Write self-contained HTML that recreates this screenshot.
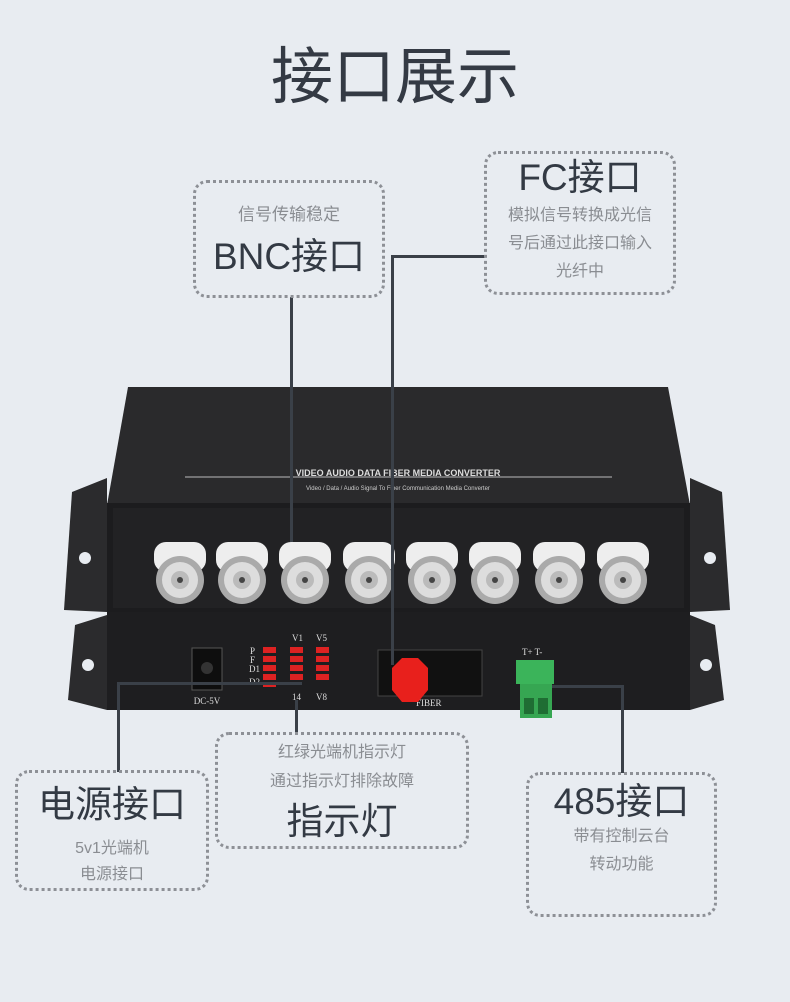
<!DOCTYPE html>
<html><head><meta charset="utf-8"><style>
body{margin:0;width:790px;height:1002px;background:#e8ecf1;position:relative;overflow:hidden;font-family:"Liberation Sans","Noto Sans CJK SC",sans-serif;}
.t{position:absolute;white-space:nowrap;text-align:center;}
.box{position:absolute;border:3px dotted #8d9096;border-radius:14px;box-sizing:border-box;}
.big{font-size:37px;color:#333a44;}
.sm{font-size:16px;color:#8a8d92;}
.ln{position:absolute;background:#3a4048;}
</style></head><body>
<div class="t" style="left:0;width:790px;top:26px;font-size:62px;color:#343a44;">接口展示</div>

<svg style="position:absolute;left:0;top:0" width="790" height="1002">
 <polygon points="107,478 72,492 64,610 107,612" fill="#2b2b2d"/>
 <polygon points="690,478 722,492 730,610 690,612" fill="#2b2b2d"/>
 <polygon points="128,387 668,387 690,505 107,505" fill="#2a2a2c"/>
 <line x1="185" y1="477" x2="612" y2="477" stroke="#bbb" stroke-width="1"/>
 <text x="398" y="476" font-size="9" fill="#ddd" text-anchor="middle" font-family="Liberation Sans" font-weight="bold">VIDEO AUDIO DATA FIBER MEDIA CONVERTER</text>
 <text x="398" y="490" font-size="6" fill="#ccc" text-anchor="middle" font-family="Liberation Sans">Video / Data / Audio Signal To Fiber Communication Media Converter</text>
 <rect x="107" y="503" width="583" height="110" fill="#1c1c1e"/>
 <rect x="113" y="508" width="571" height="100" fill="#222224"/>
 <polygon points="107,615 75,625 68,700 107,710" fill="#2b2b2d"/>
 <polygon points="690,615 715,625 724,700 690,710" fill="#2b2b2d"/>
 <rect x="107" y="612" width="583" height="98" fill="#1e1e20"/>
 <g fill="#e8ecf1">
  <circle cx="85" cy="558" r="6"/><circle cx="710" cy="558" r="6"/>
  <circle cx="88" cy="665" r="6"/><circle cx="706" cy="665" r="6"/>
 </g>
 <g>
  <g transform="translate(180,0)"><rect x="-26" y="542" width="52" height="30" rx="12" fill="#eee"/><circle cy="580" r="24" fill="#aaa"/><circle cy="580" r="18" fill="#ddd"/><circle cy="580" r="9" fill="#bbb"/><circle cy="580" r="3" fill="#444"/></g>
  <g transform="translate(242,0)"><rect x="-26" y="542" width="52" height="30" rx="12" fill="#eee"/><circle cy="580" r="24" fill="#aaa"/><circle cy="580" r="18" fill="#ddd"/><circle cy="580" r="9" fill="#bbb"/><circle cy="580" r="3" fill="#444"/></g>
  <g transform="translate(305,0)"><rect x="-26" y="542" width="52" height="30" rx="12" fill="#eee"/><circle cy="580" r="24" fill="#aaa"/><circle cy="580" r="18" fill="#ddd"/><circle cy="580" r="9" fill="#bbb"/><circle cy="580" r="3" fill="#444"/></g>
  <g transform="translate(369,0)"><rect x="-26" y="542" width="52" height="30" rx="12" fill="#eee"/><circle cy="580" r="24" fill="#aaa"/><circle cy="580" r="18" fill="#ddd"/><circle cy="580" r="9" fill="#bbb"/><circle cy="580" r="3" fill="#444"/></g>
  <g transform="translate(432,0)"><rect x="-26" y="542" width="52" height="30" rx="12" fill="#eee"/><circle cy="580" r="24" fill="#aaa"/><circle cy="580" r="18" fill="#ddd"/><circle cy="580" r="9" fill="#bbb"/><circle cy="580" r="3" fill="#444"/></g>
  <g transform="translate(495,0)"><rect x="-26" y="542" width="52" height="30" rx="12" fill="#eee"/><circle cy="580" r="24" fill="#aaa"/><circle cy="580" r="18" fill="#ddd"/><circle cy="580" r="9" fill="#bbb"/><circle cy="580" r="3" fill="#444"/></g>
  <g transform="translate(559,0)"><rect x="-26" y="542" width="52" height="30" rx="12" fill="#eee"/><circle cy="580" r="24" fill="#aaa"/><circle cy="580" r="18" fill="#ddd"/><circle cy="580" r="9" fill="#bbb"/><circle cy="580" r="3" fill="#444"/></g>
  <g transform="translate(623,0)"><rect x="-26" y="542" width="52" height="30" rx="12" fill="#eee"/><circle cy="580" r="24" fill="#aaa"/><circle cy="580" r="18" fill="#ddd"/><circle cy="580" r="9" fill="#bbb"/><circle cy="580" r="3" fill="#444"/></g>
 </g>
 <rect x="192" y="648" width="30" height="42" fill="#0e0e0e" stroke="#555"/>
 <circle cx="207" cy="668" r="6" fill="#333"/>
 <text x="207" y="704" font-size="9" fill="#ddd" text-anchor="middle" font-family="Liberation Serif">DC-5V</text>
 <g fill="#d22">
  <rect x="263" y="647" width="13" height="6"/><rect x="263" y="656" width="13" height="6"/><rect x="263" y="665" width="13" height="6"/><rect x="263" y="674" width="13" height="6"/><rect x="263" y="683" width="13" height="4"/>
  <rect x="290" y="647" width="13" height="6"/><rect x="290" y="656" width="13" height="6"/><rect x="290" y="665" width="13" height="6"/><rect x="290" y="674" width="13" height="6"/>
  <rect x="316" y="647" width="13" height="6"/><rect x="316" y="656" width="13" height="6"/><rect x="316" y="665" width="13" height="6"/><rect x="316" y="674" width="13" height="6"/>
 </g>
 <g font-size="9" fill="#ddd" font-family="Liberation Serif">
  <text x="292" y="641">V1</text><text x="316" y="641">V5</text>
  <text x="250" y="654">P</text><text x="250" y="663">F</text><text x="249" y="672">D1</text><text x="249" y="685">D2</text>
  <text x="292" y="700">14</text><text x="316" y="700">V8</text>
  <text x="416" y="706">FIBER</text>
  <text x="522" y="655">T+ T-</text>
 </g>
 <rect x="378" y="650" width="104" height="46" fill="#111" stroke="#444"/>
 <polygon points="392,668 402,658 418,658 428,668 428,690 418,702 402,702 392,690" fill="#e8201c"/>
 <rect x="516" y="660" width="38" height="24" fill="#3bb45a"/>
 <rect x="520" y="684" width="32" height="34" fill="#36a652"/>
 <rect x="524" y="698" width="10" height="16" fill="#1f6d33"/><rect x="538" y="698" width="10" height="16" fill="#1f6d33"/>
</svg>

<div class="ln" style="left:290px;top:297px;width:3px;height:245px;"></div>
<div class="ln" style="left:391px;top:255px;width:94px;height:3px;"></div>
<div class="ln" style="left:391px;top:255px;width:3px;height:410px;"></div>
<div class="ln" style="left:117px;top:682px;width:185px;height:3px;"></div>
<div class="ln" style="left:117px;top:682px;width:3px;height:90px;"></div>
<div class="ln" style="left:295px;top:700px;width:3px;height:33px;"></div>
<div class="ln" style="left:552px;top:685px;width:71px;height:3px;"></div>
<div class="ln" style="left:621px;top:685px;width:3px;height:88px;"></div>

<div class="box" style="left:193px;top:180px;width:192px;height:118px;"></div>
<div class="t sm" style="left:193px;width:192px;top:200px;font-size:17px;">信号传输稳定</div>
<div class="t big" style="left:193px;width:192px;top:226px;">BNC接口</div>

<div class="box" style="left:484px;top:151px;width:192px;height:144px;"></div>
<div class="t big" style="left:484px;width:192px;top:147px;">FC接口</div>
<div class="t sm" style="left:484px;width:192px;top:202px;line-height:28px;">模拟信号转换成光信<br>号后通过此接口输入<br>光纤中</div>

<div class="box" style="left:15px;top:770px;width:194px;height:121px;"></div>
<div class="t big" style="left:15px;width:194px;top:774px;">电源接口</div>
<div class="t sm" style="left:15px;width:194px;top:836px;line-height:26px;">5v1光端机<br>电源接口</div>

<div class="box" style="left:215px;top:732px;width:254px;height:117px;"></div>
<div class="t sm" style="left:215px;width:254px;top:738px;line-height:29px;">红绿光端机指示灯<br>通过指示灯排除故障</div>
<div class="t big" style="left:215px;width:254px;top:791px;">指示灯</div>

<div class="box" style="left:526px;top:772px;width:191px;height:145px;"></div>
<div class="t big" style="left:526px;width:191px;top:771px;">485接口</div>
<div class="t sm" style="left:526px;width:191px;top:823px;line-height:28px;">带有控制云台<br>转动功能</div>
</body></html>
